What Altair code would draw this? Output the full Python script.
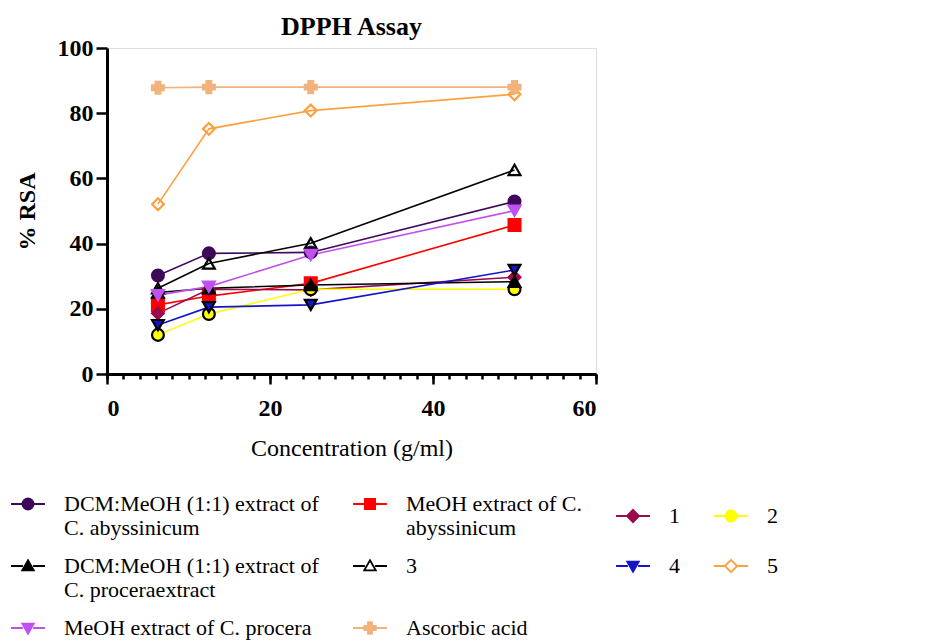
import altair as alt
import pandas as pd

# ---- data ----
conc = [6.25, 12.5, 25, 50]

series_names = [
    "DCM:MeOH (1:1) extract of|C. abyssinicum",
    "MeOH extract of C.|abyssinicum",
    "1",
    "2",
    "DCM:MeOH (1:1) extract of|C. proceraextract",
    "3",
    "4",
    "5",
    "MeOH extract of C. procera",
    "Ascorbic acid",
]

dcm_abys = [30.2, 37.0, 37.3, 52.9]
meoh_abys = [21.2, 23.9, 27.8, 45.7]
c1 = [18.6, 26.0, 25.8, 29.7]
c2 = [12.0, 18.4, 26.0, 26.0]
dcm_proc = [25.0, 26.3, 27.3, 28.3]
c3 = [26.3, 33.9, 40.1, 62.6]
c4 = [15.0, 20.5, 21.2, 31.9]
c5 = [52.1, 75.2, 80.8, 85.8]
meoh_proc = [24.2, 26.8, 36.5, 50.1]
ascorbic = [87.8, 88.0, 88.0, 88.0]

values = [dcm_abys, meoh_abys, c1, c2, dcm_proc, c3, c4, c5, meoh_proc, ascorbic]

x_major = [0, 20, 40, 60]
x_minor = list(range(0, 61, 2))
y_ticks = [0, 20, 40, 60, 80, 100]

rows = []
for name, vals in zip(series_names, values):
    for c, v in zip(conc, vals):
        rows.append({"series": name, "conc": c, "rsa": v})
df = pd.DataFrame(rows)

# ---- styles ----
line_colors = ["#3d0a5a", "#ff0000", "#9a0b4c", "#ffff00", "#000000",
               "#000000", "#1414c8", "#ffa040", "#c050f0", "#f2b27c"]
fill_colors = ["#3d0a5a", "#ff0000", "#9a0b4c", "#ffff00", "#000000",
               "transparent", "#1414c8", "transparent", "#c050f0", "#f2b27c"]
stroke_colors = ["#3d0a5a", "#ff0000", "#9a0b4c", "#000000", "#000000",
                 "#000000", "#000000", "#ffa040", "#c050f0", "#f2b27c"]
shapes = ["circle", "square", "diamond", "circle", "triangle-up",
          "triangle-up", "triangle-down", "diamond", "triangle-down", "cross"]

seg = "M-1,0H-0.3M0.3,0H1"
p_circle = "M-0.33,0A0.33,0.33 0 1,0 0.33,0A0.33,0.33 0 1,0 -0.33,0Z"
p_square = "M-0.3,-0.3H0.3V0.3H-0.3Z"
p_diamond = "M0,-0.36L0.36,0L0,0.36L-0.36,0Z"
p_tri_up = "M0,-0.34L0.34,0.26H-0.34Z"
p_tri_down = "M0,0.34L0.34,-0.26H-0.34Z"
p_cross = "M-0.12,-0.34H0.12V-0.12H0.34V0.12H0.12V0.34H-0.12V0.12H-0.34V-0.12H-0.12Z"
legend_shapes = [seg + p_circle, seg + p_square, seg + p_diamond, seg + p_circle,
                 seg + p_tri_up, seg + p_tri_up, seg + p_tri_down, seg + p_diamond,
                 seg + p_tri_down, seg + p_cross]

FONT = "Liberation Serif"

x_scale = alt.Scale(domain=[0, 60], nice=False)
y_scale = alt.Scale(domain=[0, 100], nice=False)

x_enc_major = alt.X(
    "conc:Q", scale=x_scale,
    axis=alt.Axis(values=x_major, title="Concentration (g/ml)", orient="bottom",
                  tickSize=10, tickWidth=2.5, domainWidth=3, domainColor="black",
                  tickColor="black", labelFont=FONT, labelFontSize=24,
                  labelFontWeight="bold", labelColor="black", labelPadding=12,
                  titleFont=FONT, titleFontSize=24, titleFontWeight="normal",
                  titleColor="black", titlePadding=16, grid=False),
)
x_enc_minor = alt.X(
    "conc:Q", scale=x_scale,
    axis=alt.Axis(values=x_minor, title=None, labels=False, domain=False,
                  orient="bottom", tickSize=5, tickWidth=2.5, tickColor="black",
                  grid=False),
)
y_axis = alt.Axis(values=y_ticks, title="% RSA", tickSize=11, tickWidth=2.5,
                  domainWidth=3, domainColor="black", tickColor="black",
                  labelFont=FONT, labelFontSize=24, labelFontWeight="bold",
                  labelColor="black", labelPadding=3, titleFont=FONT,
                  titleFontSize=24, titleFontWeight="bold", titleColor="black",
                  titlePadding=18, grid=False)


def y_enc():
    return alt.Y("rsa:Q", scale=y_scale, axis=y_axis)


lines = alt.Chart(df).mark_line(strokeWidth=1.6).encode(
    x=x_enc_major,
    y=y_enc(),
    color=alt.Color("series:N", scale=alt.Scale(domain=series_names, range=line_colors),
                    legend=None),
    detail="series:N",
)

points = alt.Chart(df).mark_point(filled=True, size=140, strokeWidth=2.2, opacity=1).encode(
    x=x_enc_minor,
    y=y_enc(),
    shape=alt.Shape("series:N", scale=alt.Scale(domain=series_names, range=shapes),
                    legend=None),
    fill=alt.Fill("series:N", scale=alt.Scale(domain=series_names, range=fill_colors),
                  legend=None),
    stroke=alt.Stroke("series:N", scale=alt.Scale(domain=series_names, range=stroke_colors),
                      legend=None),
)

legend = alt.Legend(
    title=None, orient="none", direction="horizontal", legendX=-97, legendY=438,
    columns=4,
    labelExpr="split(datum.label, '|')", labelFont=FONT, labelFontSize=22,
    labelColor="black", labelLimit=0, symbolSize=1150, symbolStrokeWidth=1.8,
    symbolOpacity=1, labelOffset=18, columnPadding=30, rowPadding=9,
    labelBaseline="middle",
)

legend_layer = alt.Chart(df).transform_filter("false").mark_point(
    filled=True, size=1150, strokeWidth=1.8, opacity=1
).encode(
    x=alt.X("conc:Q", scale=x_scale, axis=None),
    y=y_enc(),
    shape=alt.Shape("series:N", scale=alt.Scale(domain=series_names, range=legend_shapes),
                    legend=legend),
    fill=alt.Fill("series:N", scale=alt.Scale(domain=series_names, range=fill_colors),
                  legend=legend),
    stroke=alt.Stroke("series:N", scale=alt.Scale(domain=series_names, range=line_colors),
                      legend=legend),
)

chart = (
    alt.layer(lines, points, legend_layer)
    .resolve_scale(shape="independent", fill="independent", stroke="independent",
                   color="independent")
    .resolve_axis(x="independent")
    .properties(
        width=489, height=326,
        title=alt.Title("DPPH Assay", font=FONT, fontSize=26, fontWeight="bold",
                        color="black", anchor="middle", offset=-4),
        padding={"left": 2, "right": 5, "top": 6, "bottom": 2},
    )
    .configure_view(fill="#fffde1", stroke=None)
    .configure(background="white")
)

chart.save("out.html", embed_options={"renderer": "svg", "actions": False})
